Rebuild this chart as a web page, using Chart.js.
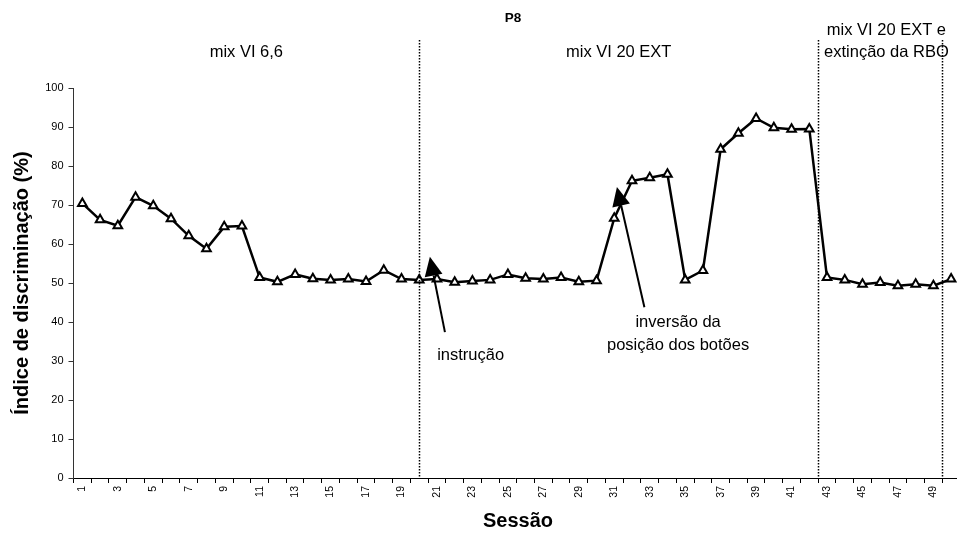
<!DOCTYPE html>
<html>
<head>
<meta charset="utf-8">
<script src="https://cdn.jsdelivr.net/npm/chart.js@4/dist/chart.umd.min.js"></script>
<style>
  html, body { margin: 0; padding: 0; background: #ffffff; }
  #wrap { width: 957px; height: 533px; position: relative; }
</style>
</head>
<body>
<div id="wrap"><canvas id="chart" width="957" height="533"></canvas></div>
<script>
// Sessions on the x axis
const sessions = Array.from({ length: 50 }, (_, i) => String(i + 1));

// Discrimination index (%) per session, participant P8
const discrimination = [
  70.4, 66.2, 64.7, 72.0, 69.8, 66.5, 62.1, 58.8, 64.4, 64.6,
  51.4, 50.3, 52.2, 51.1, 50.8, 51.0, 50.4, 53.3, 51.0, 50.8,
  51.0, 50.2, 50.5, 50.8, 52.2, 51.2, 51.0, 51.4, 50.3, 50.6,
  66.6, 76.2, 77.0, 77.9, 50.8, 53.2, 84.3, 88.4, 92.2, 89.8,
  89.4, 89.5, 51.4, 50.8, 49.7, 50.1, 49.3, 49.7, 49.3, 51.0
];

// Y axis ticks
const yTicks = [0, 10, 20, 30, 40, 50, 60, 70, 80, 90, 100];

// Phase boundaries (session units) and phase names
const phaseLines = [20, 42.5, 49.5];
const phaseNames = [
  { lines: ['mix VI 6,6'], session: 10.25 },
  { lines: ['mix VI 20 EXT'], session: 31.25 },
  { lines: ['mix VI 20 EXT e', 'extinção da RBO'], session: 46.35 }
];

// Arrow notes: text anchor, arrow tail and tip in (session, %) units
const notes = [
  { lines: ['instrução'], text: [22.9, 31.5], tail: [21.45, 37.4], tip: [20.6, 56.7] },
  { lines: ['inversão da', 'posição dos botões'], text: [34.6, 40.0], tail: [32.7, 43.8], tip: [31.15, 74.6] }
];

const FONT = "'Liberation Sans', Arial, Helvetica, sans-serif";

// the session axis runs a little past the right edge of the canvas
const axisOverhang = {
  id: 'axisOverhang',
  afterLayout(chart) {
    const xs = chart.scales.x;
    xs.right = chart.width + 3;
    xs.width = xs.right - xs.left;
    xs.configure();
    chart.chartArea.right = xs.right;
    chart.chartArea.width = xs.width;
  }
};

const decorations = {
  id: 'decorations',
  afterDatasetsDraw(chart) {
    const { ctx, chartArea } = chart;
    const xs = chart.scales.x, ys = chart.scales.y;
    const px = s => xs.getPixelForValue(s - 1);
    const py = v => ys.getPixelForValue(v);

    ctx.save();

    // dotted phase separators
    ctx.strokeStyle = '#000';
    ctx.lineWidth = 1.5;
    ctx.setLineDash([1.5, 1.5]);
    phaseLines.forEach(s => {
      const x = Math.round(px(s)) + 0.5;
      ctx.beginPath();
      ctx.moveTo(x, py(112.3));
      ctx.lineTo(x, chartArea.bottom);
      ctx.stroke();
    });
    ctx.setLineDash([]);

    // phase names
    ctx.fillStyle = '#000';
    ctx.font = '16.5px ' + FONT;
    ctx.textAlign = 'center';
    ctx.textBaseline = 'middle';
    phaseNames.forEach(p => {
      const n = p.lines.length;
      p.lines.forEach((t, i) => {
        const v = 109.2 + (n - 1 - i) * 5.65;
        ctx.fillText(t, px(p.session), py(v));
      });
    });

    // arrows with notes
    notes.forEach(a => {
      const x0 = px(a.tail[0]), y0 = py(a.tail[1]);
      const x1 = px(a.tip[0]), y1 = py(a.tip[1]);
      const ang = Math.atan2(y1 - y0, x1 - x0);
      const headLen = 19, headHalf = 9;
      const bx = x1 - Math.cos(ang) * headLen, by = y1 - Math.sin(ang) * headLen;
      ctx.strokeStyle = '#000';
      ctx.lineWidth = 2;
      ctx.beginPath();
      ctx.moveTo(x0, y0);
      ctx.lineTo(bx, by);
      ctx.stroke();
      ctx.beginPath();
      ctx.moveTo(x1, y1);
      ctx.lineTo(bx + Math.sin(ang) * headHalf, by - Math.cos(ang) * headHalf);
      ctx.lineTo(bx - Math.sin(ang) * headHalf, by + Math.cos(ang) * headHalf);
      ctx.closePath();
      ctx.fillStyle = '#000';
      ctx.fill();

      ctx.font = '16.5px ' + FONT;
      ctx.textAlign = 'center';
      ctx.textBaseline = 'middle';
      a.lines.forEach((t, i) => {
        ctx.fillText(t, px(a.text[0]), py(a.text[1]) + i * 23);
      });
    });

    // chart title
    ctx.font = 'bold 13.5px ' + FONT;
    ctx.textAlign = 'center';
    ctx.textBaseline = 'middle';
    ctx.fillText('P8', 513, 18);

    // axis titles
    ctx.font = 'bold 20px ' + FONT;
    ctx.fillText('Sessão', 518, 521);

    ctx.save();
    ctx.translate(22, (chartArea.top + chartArea.bottom) / 2);
    ctx.rotate(-Math.PI / 2);
    ctx.font = 'bold 20px ' + FONT;
    ctx.fillText('Índice de discriminação (%)', 0, 0);
    ctx.restore();

    ctx.restore();
  }
};

new Chart(document.getElementById('chart'), {
  type: 'line',
  data: {
    labels: sessions,
    datasets: [{
      data: discrimination,
      borderColor: '#000',
      borderWidth: 2.5,
      tension: 0,
      pointStyle: 'triangle',
      pointRadius: 5,
      pointBorderWidth: 2,
      pointBackgroundColor: '#fff',
      pointBorderColor: '#000',
      clip: false
    }]
  },
  options: {
    responsive: false,
    animation: false,
    devicePixelRatio: 1,
    layout: { autoPadding: false, padding: { top: 88, right: 0, left: 0, bottom: 0 } },
    plugins: { legend: { display: false }, tooltip: { enabled: false }, title: { display: false } },
    scales: {
      x: {
        type: 'category',
        offset: true,
        grid: { display: true, offset: true, drawOnChartArea: false, drawTicks: true, tickLength: 5, color: '#000', lineWidth: 1 },
        border: { display: true, color: '#000', width: 1 },
        ticks: {
          autoSkip: false,
          minRotation: 90,
          maxRotation: 90,
          padding: 3,
          color: '#000',
          font: { family: FONT, size: 10.5 },
          callback: (val, idx) => (idx % 2 === 0 ? sessions[idx] : '')
        },
        afterFit: s => { s.height = 55; s.paddingLeft = 0; s.paddingRight = 0; }
      },
      y: {
        min: 0,
        max: 100,
        afterBuildTicks: s => { s.ticks = yTicks.map(v => ({ value: v })); },
        grid: { display: true, drawOnChartArea: false, drawTicks: true, tickLength: 5, color: '#333', lineWidth: 1 },
        border: { display: true, color: '#333', width: 1 },
        ticks: { padding: 5, color: '#000', font: { family: FONT, size: 11 } },
        afterFit: s => { s.width = 73.5; s.paddingTop = 0; s.paddingBottom = 0; }
      }
    }
  },
  plugins: [axisOverhang, decorations]
});
</script>
</body>
</html>
